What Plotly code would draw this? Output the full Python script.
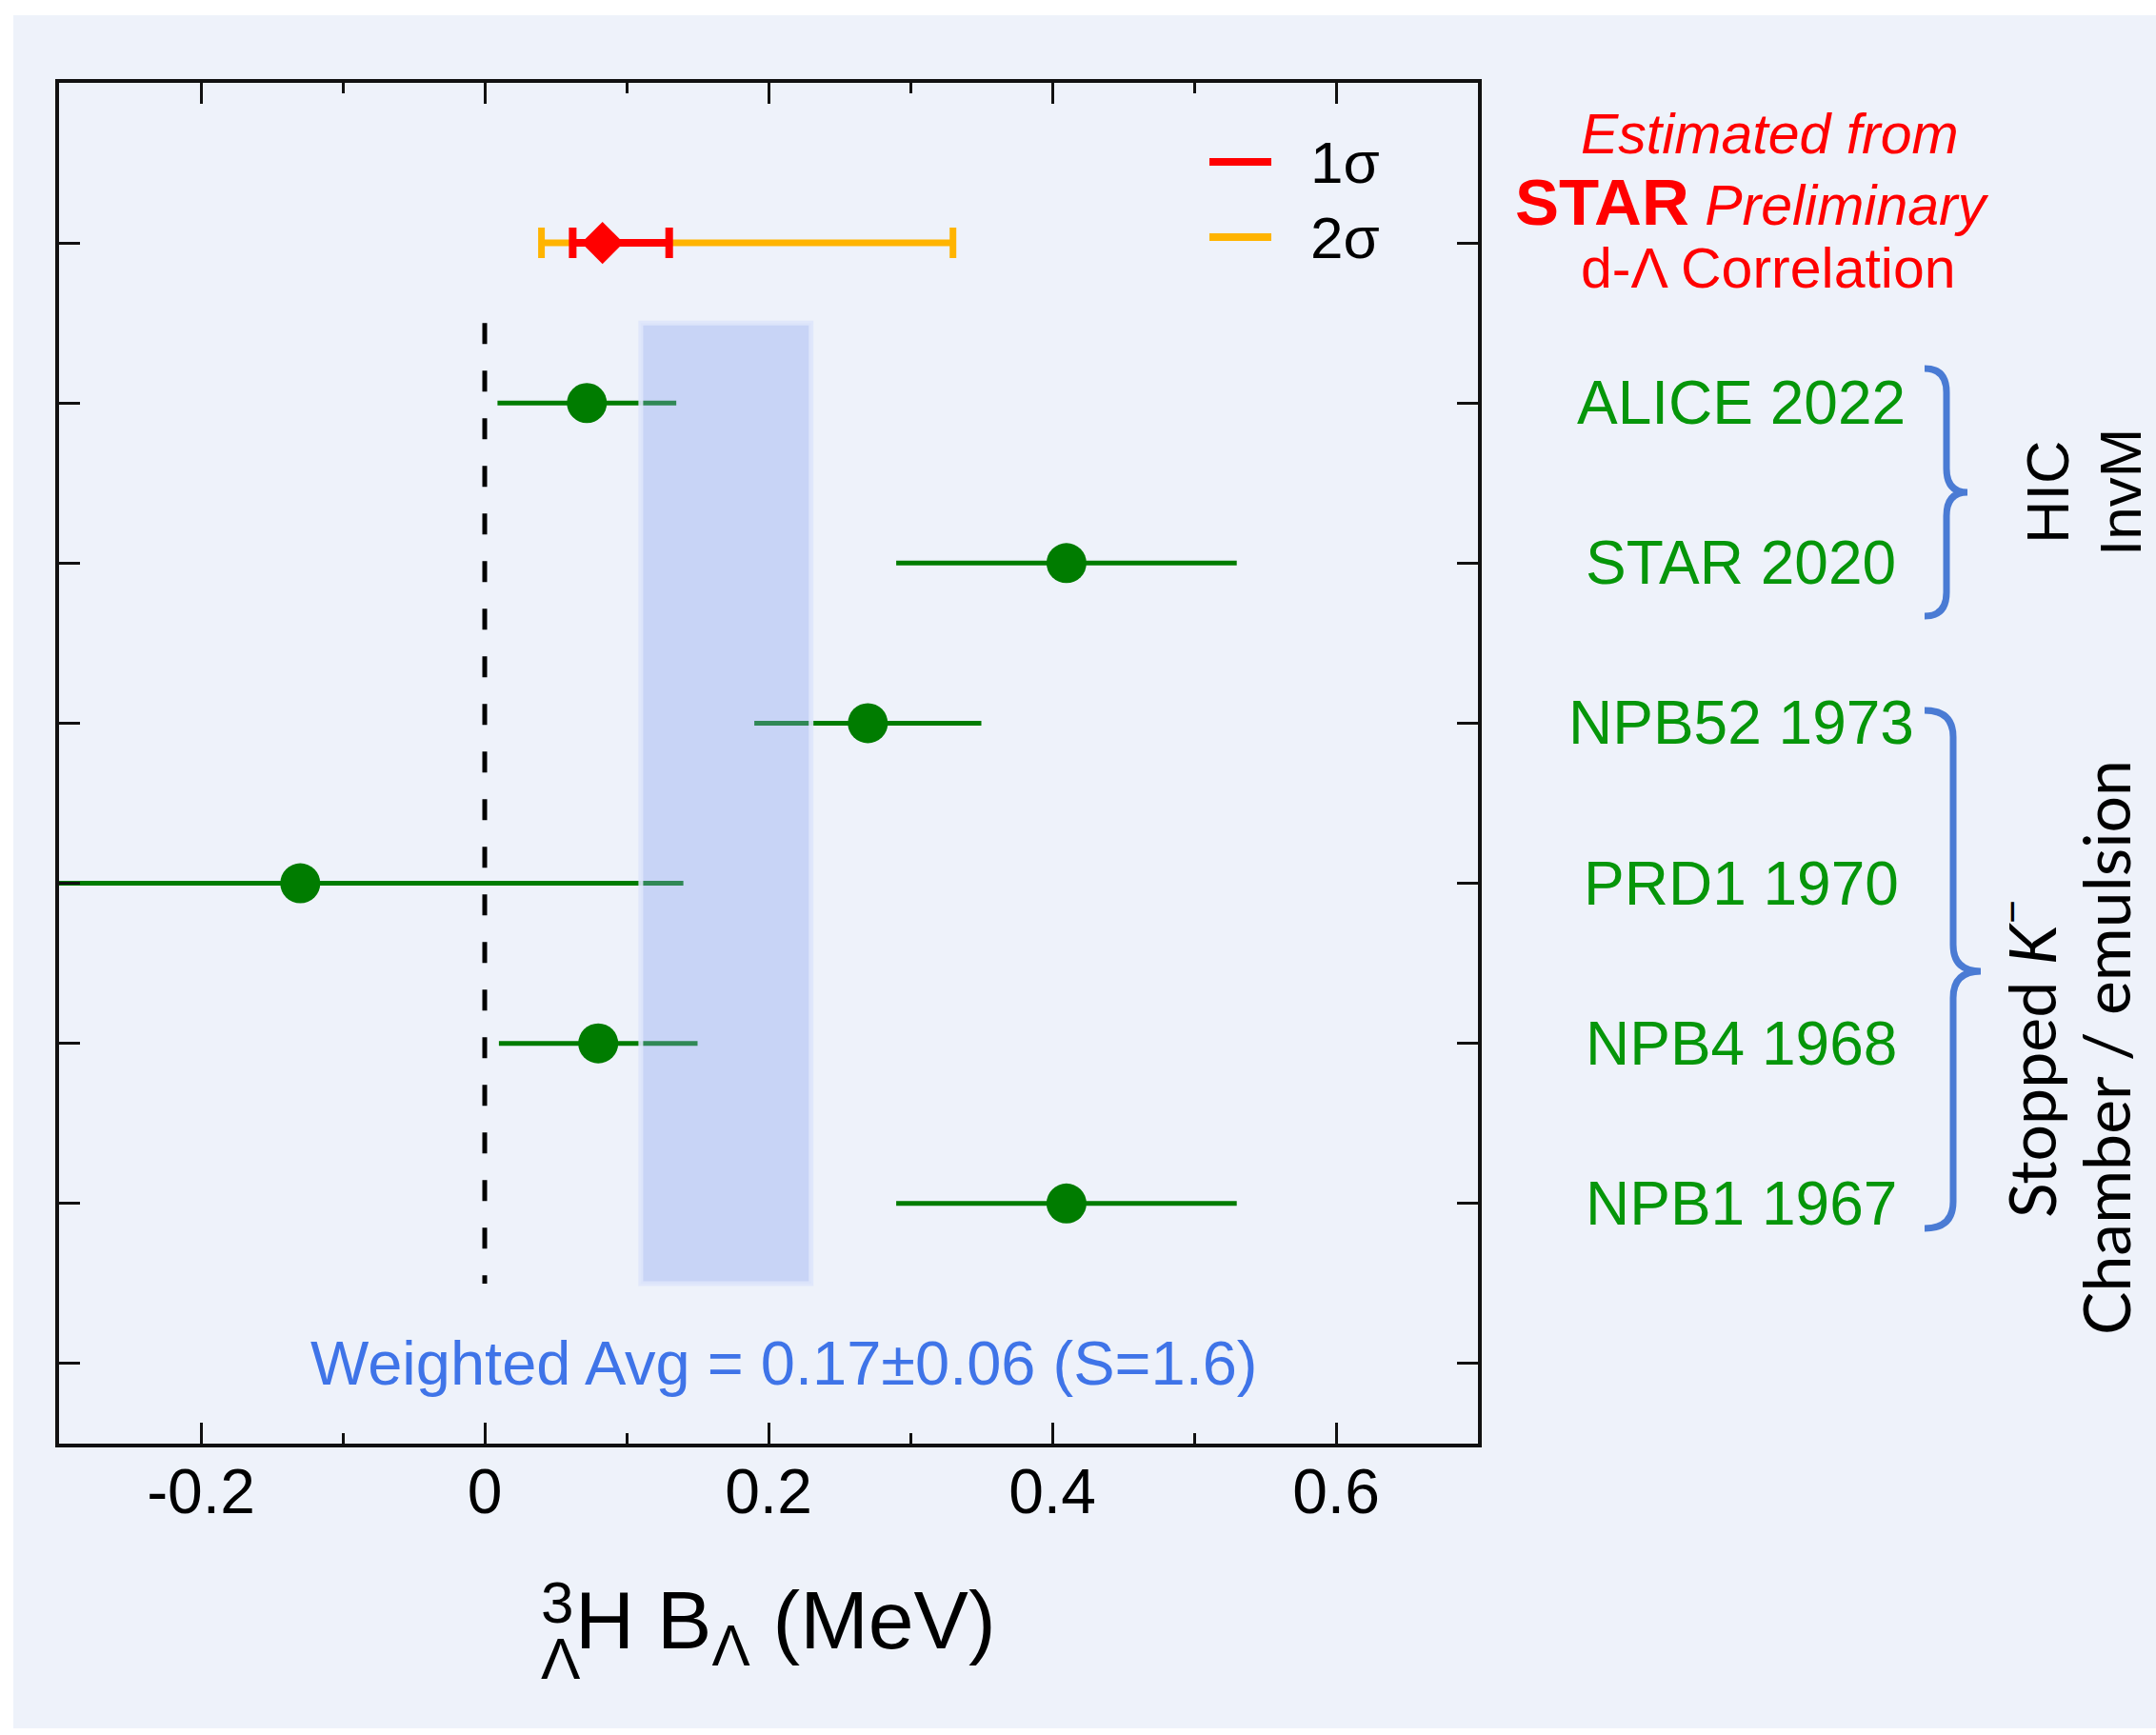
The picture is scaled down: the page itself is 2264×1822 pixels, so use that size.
import plotly.graph_objects as go

# ---- data -------------------------------------------------------------
labels = ["ALICE 2022", "STAR 2020", "NPB52 1973", "PRD1 1970", "NPB4 1968", "NPB1 1967"]
rows = [2, 3, 4, 5, 6, 7]
b_lambda = [0.072, 0.41, 0.27, -0.13, 0.08, 0.41]
b_lambda_err = [0.063, 0.12, 0.08, 0.27, 0.07, 0.12]

# STAR preliminary estimate from d-Lambda correlation
star_prelim_row = [1]
star_prelim_value = [0.083]
star_prelim_1sigma = [0.062, 0.13]   # low, high
star_prelim_2sigma = [0.04, 0.33]    # low, high

# weighted average of the measurements
avg_value = 0.17
avg_err = 0.06
avg_scale = 1.6
avg_row = 8
avg_span = [1.5, 7.5]

tick_values = [-0.2, 0.0, 0.2, 0.4, 0.6]
tick_labels = ["-0.2", "0", "0.2", "0.4", "0.6"]
minor_tick_values = [-0.1, 0.1, 0.3, 0.5]
row_ticks = [1, 2, 3, 4, 5, 6, 7, 8]

# ---- styling ------------------------------------------------------------
W, H = 2264, 1822
ML, MR, MT, MB = 62, 712, 87, 306
PW, PH = W - ML - MR, H - MT - MB
BG = "#eef2fa"
GREEN_MK = "#007c00"
GREEN_TX = "#06960a"
RED = "#ff0000"
ORANGE = "#ffb400"
BLUE_TX = "#3f74e8"
BRACE = "#4a7bd4"
ARIAL = "Liberation Sans, Arial, Helvetica, sans-serif"
CALI = "Lato, Open Sans, sans-serif"


def px_x(px):
    return (px - ML) / PW


def px_y(py):
    return (MT + PH - py) / PH


fig = go.Figure()

# 2 sigma band of the STAR preliminary estimate
fig.add_trace(go.Scatter(
    x=star_prelim_value, y=star_prelim_row, mode="markers",
    marker=dict(size=1, color="rgba(0,0,0,0)"),
    error_x=dict(type="data", symmetric=False,
                 array=[star_prelim_2sigma[1] - star_prelim_value[0]],
                 arrayminus=[star_prelim_value[0] - star_prelim_2sigma[0]],
                 color=ORANGE, thickness=7, width=16),
    showlegend=False, hoverinfo="skip"))

# 1 sigma band + central value
fig.add_trace(go.Scatter(
    x=star_prelim_value, y=star_prelim_row, mode="markers",
    marker=dict(symbol="diamond", size=34, color=RED, line=dict(width=0)),
    error_x=dict(type="data", symmetric=False,
                 array=[star_prelim_1sigma[1] - star_prelim_value[0]],
                 arrayminus=[star_prelim_value[0] - star_prelim_1sigma[0]],
                 color=RED, thickness=8, width=16),
    showlegend=False))

# published measurements
fig.add_trace(go.Scatter(
    x=b_lambda, y=rows, mode="markers",
    marker=dict(symbol="circle", size=42, color=GREEN_MK, line=dict(width=0)),
    error_x=dict(type="data", array=b_lambda_err, color=GREEN_MK,
                 thickness=5, width=0),
    showlegend=False))

shapes = []
# page background
shapes.append(dict(type="rect", xref="paper", yref="paper", layer="below",
                   x0=px_x(14), x1=px_x(W + 10), y0=px_y(1815), y1=px_y(16),
                   fillcolor=BG, line=dict(width=0)))
# zero line
shapes.append(dict(type="line", xref="x", yref="y", x0=0, x1=0,
                   y0=avg_span[0], y1=avg_span[1],
                   line=dict(color="black", width=5, dash="22px,28px")))
# weighted average band
shapes.append(dict(type="rect", xref="x", yref="y", layer="above",
                   x0=avg_value - avg_err, x1=avg_value + avg_err,
                   y0=avg_span[0], y1=avg_span[1],
                   fillcolor="rgba(132,159,238,0.36)",
                   line=dict(color="rgba(222,230,251,0.9)", width=5)))

# legend swatches
for ypx, col in [(170, RED), (249, ORANGE)]:
    shapes.append(dict(type="line", xref="paper", yref="paper",
                       x0=px_x(1270), x1=px_x(1335), y0=px_y(ypx), y1=px_y(ypx),
                       line=dict(color=col, width=8)))


def brace(xl, xv, xt, yt, ym, yb, r):
    pts = [
        f"M {px_x(xl):.5f},{px_y(yt):.5f}",
        f"Q {px_x(xv):.5f},{px_y(yt):.5f} {px_x(xv):.5f},{px_y(yt + r):.5f}",
        f"L {px_x(xv):.5f},{px_y(ym - r):.5f}",
        f"Q {px_x(xv):.5f},{px_y(ym):.5f} {px_x(xt):.5f},{px_y(ym):.5f}",
        f"Q {px_x(xv):.5f},{px_y(ym):.5f} {px_x(xv):.5f},{px_y(ym + r):.5f}",
        f"L {px_x(xv):.5f},{px_y(yb - r):.5f}",
        f"Q {px_x(xv):.5f},{px_y(yb):.5f} {px_x(xl):.5f},{px_y(yb):.5f}",
    ]
    return dict(type="path", xref="paper", yref="paper", path=" ".join(pts),
                line=dict(color=BRACE, width=7))


shapes.append(brace(2021, 2044, 2066, 387, 517, 647, 25))
shapes.append(brace(2021, 2051, 2080, 746, 1020, 1290, 28))

ann = []
# measurement labels
for lab, r in zip(labels, rows):
    ann.append(dict(x=px_x(1828), xref="paper", y=r, yref="y", text=lab,
                    showarrow=False, xanchor="center", yanchor="middle",
                    font=dict(family=ARIAL, size=64, color=GREEN_TX)))

# STAR preliminary caption
for txt, xpx, ypx in [("<i>Estimated from</i>", 1858, 141),
                      ("<span style='font-size:69px'><b>STAR</b></span> <i>Preliminary</i>", 1840, 212),
                      ("d-Λ Correlation", 1857, 282)]:
    ann.append(dict(x=px_x(xpx), xref="paper", y=px_y(ypx), yref="paper",
                    text=txt, showarrow=False, xanchor="center", yanchor="middle",
                    font=dict(family=ARIAL, size=59, color=RED)))

# legend text
for txt, ypx in [("1σ", 170), ("2σ", 249)]:
    ann.append(dict(x=px_x(1374), xref="paper", y=px_y(ypx), yref="paper",
                    text=txt, showarrow=False, xanchor="left", yanchor="middle",
                    font=dict(family=ARIAL, size=62, color="black")))

# weighted average text
ann.append(dict(x=0.2113, xref="x", y=avg_row, yref="y",
                text=f"Weighted Avg = {avg_value:.2f}±{avg_err:.2f} (S={avg_scale:.1f})",
                showarrow=False, xanchor="center", yanchor="middle",
                font=dict(family=ARIAL, size=65, color=BLUE_TX)))

# group labels (vertical)
for txt, xpx, ypx, fam, fs in [("HIC", 2150, 517, ARIAL, 63), ("InvM", 2226, 517, ARIAL, 62),
                               ("Stopped <i>K</i><sup>−</sup>", 2128, 1112, CALI, 68),
                               ("Chamber / emulsion", 2210, 1100, CALI, 68)]:
    ann.append(dict(x=px_x(xpx), xref="paper", y=px_y(ypx), yref="paper",
                    text=txt, textangle=-90, showarrow=False,
                    xanchor="center", yanchor="middle",
                    font=dict(family=fam, size=fs, color="black")))

# x-axis title: hypertriton binding energy
ann.append(dict(x=px_x(602), xref="paper", y=px_y(1707), yref="paper",
                text="H B<sub>Λ</sub> (MeV)", showarrow=False,
                xanchor="left", yanchor="middle",
                font=dict(family=ARIAL, size=86, color="black")))
ann.append(dict(x=px_x(585), xref="paper", y=px_y(1682), yref="paper",
                text="3", showarrow=False, xanchor="center", yanchor="middle",
                font=dict(family=ARIAL, size=62, color="black")))
ann.append(dict(x=px_x(589), xref="paper", y=px_y(1741), yref="paper",
                text="Λ", showarrow=False, xanchor="center", yanchor="middle",
                font=dict(family=ARIAL, size=62, color="black")))

fig.update_layout(
    width=W, height=H,
    margin=dict(l=ML, r=MR, t=MT, b=MB, pad=0),
    paper_bgcolor="white", plot_bgcolor=BG,
    shapes=shapes, annotations=ann, showlegend=False,
    font=dict(family=ARIAL, color="black"),
)

fig.update_xaxes(
    range=[-0.3, 0.7], showgrid=False, zeroline=False,
    tickmode="array", tickvals=tick_values, ticktext=tick_labels,
    ticks="inside", ticklen=22, tickwidth=3, tickcolor="#111",
    minor=dict(tickmode="array", tickvals=minor_tick_values, ticks="inside",
               ticklen=11, tickwidth=3, tickcolor="#111"),
    showline=True, linecolor="#111", linewidth=4, mirror="ticks",
    tickfont=dict(family=ARIAL, size=66, color="black"),
    ticklabelstandoff=-10,
)
fig.update_yaxes(
    range=[8.5, 0], showgrid=False, zeroline=False,
    tickmode="array", tickvals=row_ticks, showticklabels=False,
    ticks="inside", ticklen=22, tickwidth=3, tickcolor="#111",
    showline=True, linecolor="#111", linewidth=4, mirror="ticks",
)

fig.write_html("out.html")
